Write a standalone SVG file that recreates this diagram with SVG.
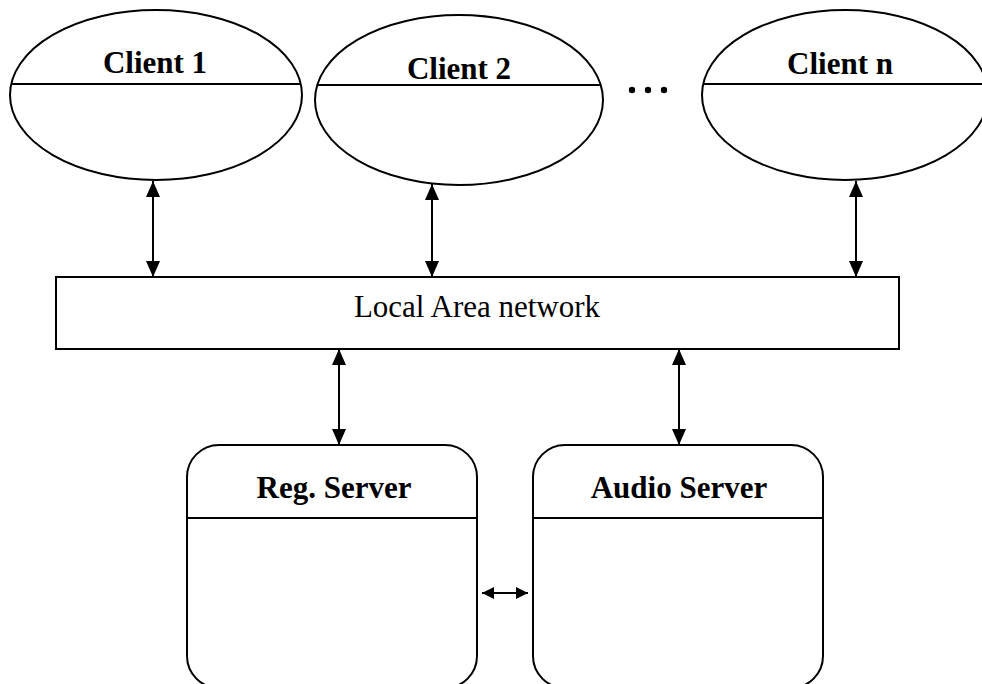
<svg xmlns="http://www.w3.org/2000/svg" width="982" height="684" viewBox="0 0 982 684">
<defs>
<style>
.shape{fill:none;stroke:#000;stroke-width:2}
.conn{stroke:#000;stroke-width:2;fill:none}
.title{font-family:"Liberation Serif","Times New Roman",serif;font-weight:bold;font-size:31px;fill:#000;text-anchor:middle}
.lan{font-family:"Liberation Serif","Times New Roman",serif;font-size:31px;fill:#000;text-anchor:middle}
</style>
<marker id="ah" viewBox="0 0 16 16" refX="16" refY="8" markerWidth="16" markerHeight="16" markerUnits="userSpaceOnUse" orient="auto-start-reverse">
<path d="M0,1 L16,8 L0,15 Z" fill="#000"/>
</marker>
<marker id="ahs" viewBox="0 0 12 12" refX="12" refY="6" markerWidth="12" markerHeight="12" markerUnits="userSpaceOnUse" orient="auto-start-reverse">
<path d="M0,0 L12,6 L0,12 Z" fill="#000"/>
</marker>
</defs>
<rect width="982" height="684" fill="#fff"/>

<g id="client1">
<ellipse class="shape" cx="156" cy="95" rx="146" ry="85"/>
<line class="shape" x1="11" y1="84" x2="301" y2="84"/>
<text class="title" x="155" y="73">Client 1</text>
</g>

<g id="client2">
<ellipse class="shape" cx="459" cy="100" rx="144" ry="85"/>
<line class="shape" x1="317" y1="85" x2="601" y2="85"/>
<text class="title" x="459" y="79">Client 2</text>
</g>

<g id="ellipsis">
<circle cx="632" cy="90" r="3.2" fill="#000"/>
<circle cx="648" cy="90" r="3.2" fill="#000"/>
<circle cx="664" cy="90" r="3.2" fill="#000"/>
</g>

<g id="clientn">
<ellipse class="shape" cx="845" cy="95" rx="143" ry="85"/>
<line class="shape" x1="703" y1="84" x2="987" y2="84"/>
<text class="title" x="840" y="74">Client n</text>
</g>

<g id="lan">
<rect class="shape" x="56" y="277" width="843" height="72"/>
<text class="lan" x="477" y="317">Local Area network</text>
</g>

<g id="regserver">
<rect class="shape" x="187" y="445" width="290" height="243" rx="32" ry="32"/>
<line class="shape" x1="187" y1="518" x2="477" y2="518"/>
<text class="title" x="334" y="498">Reg. Server</text>
</g>

<g id="audioserver">
<rect class="shape" x="533" y="445" width="290" height="243" rx="32" ry="32"/>
<line class="shape" x1="533" y1="518" x2="823" y2="518"/>
<text class="title" x="679" y="498">Audio Server</text>
</g>

<g id="connectors">
<line class="conn" x1="153" y1="181" x2="153" y2="277" marker-start="url(#ah)" marker-end="url(#ah)"/>
<line class="conn" x1="432" y1="184" x2="432" y2="277" marker-start="url(#ah)" marker-end="url(#ah)"/>
<line class="conn" x1="856" y1="181" x2="856" y2="277" marker-start="url(#ah)" marker-end="url(#ah)"/>
<line class="conn" x1="339" y1="349" x2="339" y2="445" marker-start="url(#ah)" marker-end="url(#ah)"/>
<line class="conn" x1="679" y1="349" x2="679" y2="445" marker-start="url(#ah)" marker-end="url(#ah)"/>
<line class="conn" x1="482" y1="593" x2="528" y2="593" marker-start="url(#ahs)" marker-end="url(#ahs)"/>
</g>
</svg>
